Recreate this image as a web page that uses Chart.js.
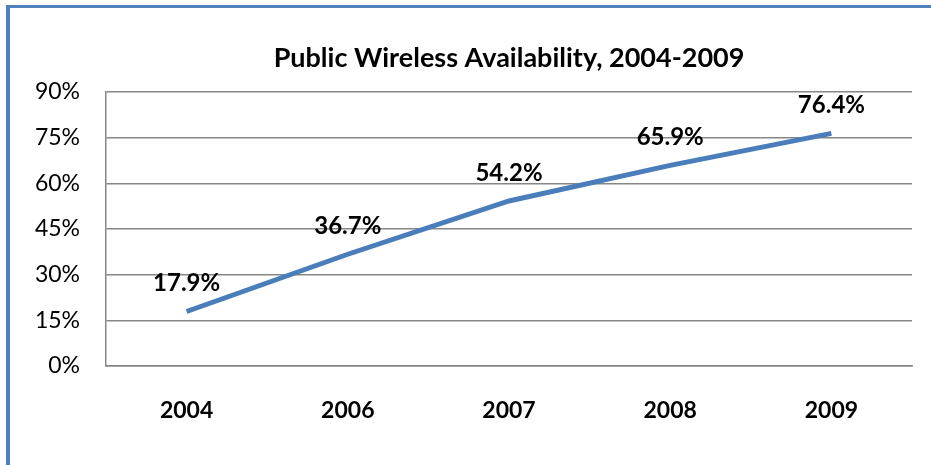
<!DOCTYPE html>
<html>
<head>
<meta charset="utf-8">
<script src="https://cdn.jsdelivr.net/npm/chart.js@4.4.1/dist/chart.umd.min.js"></script>
<style>
  html, body { margin: 0; padding: 0; background: #fff; }
  #wrap { position: relative; width: 931px; height: 465px; }
  #frame { position: absolute; left: 6px; top: 5px; right: 0; bottom: 0;
           border-left: 4px solid #4f81bd; border-top: 3px solid #4f81bd; }
  canvas { position: absolute; left: 0; top: 0; }
</style>
</head>
<body>
<div id="wrap">
  <div id="frame"></div>
  <canvas id="chart" width="931" height="465"></canvas>
</div>
<script>
// data
var chartTitle = 'Public Wireless Availability, 2004-2009';
var years = ['2004', '2006', '2007', '2008', '2009'];
var availability = [17.9, 36.7, 54.2, 65.9, 76.4];
var yTicks = [0, 15, 30, 45, 60, 75, 90];

var fontFamily = 'Lato, "Open Sans", sans-serif';

// title centred over the plot area + point labels above each point
var textLayer = {
    id: 'textLayer',
    afterDatasetsDraw: function (chart) {
        var ctx = chart.ctx;
        var area = chart.chartArea;
        var meta = chart.getDatasetMeta(0);
        ctx.save();
        ctx.fillStyle = '#000';
        ctx.textAlign = 'center';
        ctx.textBaseline = 'alphabetic';
        ctx.font = 'bold 27px ' + fontFamily;
        ctx.fillText(chartTitle, (area.left + area.right) / 2, 67);

        ctx.font = 'bold 24px ' + fontFamily;
        ctx.textBaseline = 'middle';
        meta.data.forEach(function (pt, i) {
            ctx.fillText(availability[i].toFixed(1) + '%', pt.x, pt.y - 28);
        });
        ctx.restore();
    }
};

var ctx = document.getElementById('chart');
var wirelessChart = new Chart(ctx, {
    type: 'line',
    data: {
        labels: years,
        datasets: [{
            data: availability,
            borderColor: '#4a7ebb',
            borderWidth: 5,
            pointRadius: 0,
            tension: 0,
            fill: false
        }]
    },
    options: {
        responsive: false,
        animation: false,
        layout: { padding: { left: 0, right: 19, top: 92, bottom: 0 } },
        plugins: {
            legend: { display: false },
            tooltip: { enabled: false },
            title: { display: false }
        },
        scales: {
            x: {
                offset: true,
                grid: { display: false, drawTicks: false },
                border: { display: true, color: '#868686', width: 1.5 },
                ticks: {
                    color: '#000',
                    padding: 31,
                    font: { family: fontFamily, size: 23, weight: 'bold' }
                },
                afterFit: function (scale) { scale.height = 99; }
            },
            y: {
                min: 0,
                max: 90,
                afterBuildTicks: function (scale) {
                    scale.ticks = yTicks.map(function (v) { return { value: v }; });
                },
                grid: { color: '#868686', lineWidth: 1.5, drawTicks: false },
                border: { display: true, color: '#868686', width: 1.5 },
                ticks: {
                    color: '#000',
                    padding: 26,
                    font: { family: fontFamily, size: 23 },
                    callback: function (v) { return v + '%'; }
                },
                afterFit: function (scale) { scale.width = 106; }
            }
        }
    },
    plugins: [textLayer]
});
</script>
</body>
</html>
